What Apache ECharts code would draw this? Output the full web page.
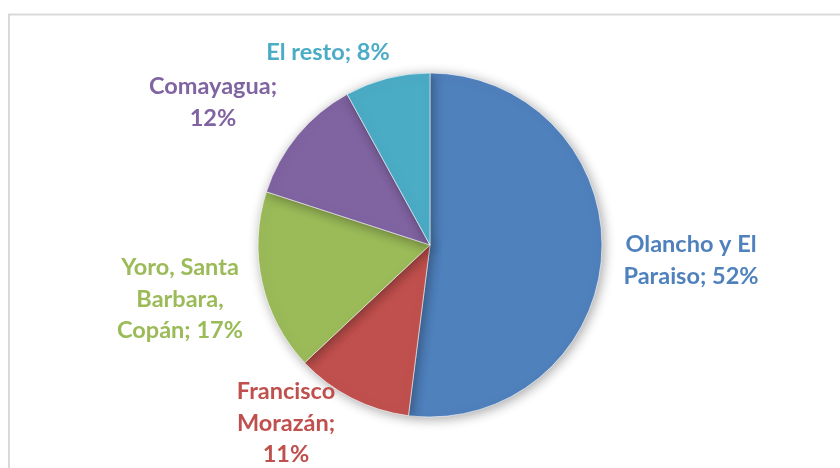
<!DOCTYPE html>
<html>
<head>
<meta charset="utf-8">
<script src="https://cdn.jsdelivr.net/npm/echarts@6/dist/echarts.min.js"></script>
<style>
  html, body { margin: 0; padding: 0; background: #fff; }
  #chart { width: 840px; height: 468px; }
</style>
</head>
<body>
<div id="chart"></div>
<script>
// Regions and their share of the total
const categories = ['Olancho y El Paraiso', 'Francisco Morazán', 'Yoro, Santa Barbara, Copán', 'Comayagua', 'El resto'];
const values = [52, 11, 17, 12, 8];

// Line breaks used in each slice label (name part)
const labelLines = [
  ['Olancho y El', 'Paraiso;'],
  ['Francisco', 'Morazán;'],
  ['Yoro, Santa', 'Barbara,', 'Copán;'],
  ['Comayagua;'],
  ['El resto;']
];
// Whether the percentage goes on its own line
const pctOwnLine = [false, true, false, true, false];

const colors = ['#4F81BD', '#C0504D', '#9BBB59', '#8064A2', '#4BACC6'];
// Label centre positions (x, first-line y)
const labelPos = [[691, 245], [286, 392], [180, 268], [213, 87], [328, 53]];

const chart = echarts.init(document.getElementById('chart'));

function labelText(i, pct) {
  const lines = labelLines[i].slice();
  const p = pct + '%';
  if (pctOwnLine[i]) lines.push(p);
  else lines[lines.length - 1] += ' ' + p;
  return lines.join('\n');
}

chart.setOption({
  backgroundColor: '#fff',
  animation: false,
  graphic: [{
    type: 'rect',
    shape: { x: 9, y: 14.5, width: 850, height: 470 },
    style: { fill: 'none', stroke: '#d9d9d9', lineWidth: 2 },
    silent: true
  }],
  series: [{
    type: 'pie',
    center: [430, 245],
    radius: 172,
    startAngle: 90,
    clockwise: true,
    data: categories.map((name, i) => ({
      name,
      value: values[i],
      itemStyle: { color: colors[i] },
      label: { color: colors[i] }
    })),
    itemStyle: {
      borderColor: 'rgba(255,255,255,0.6)',
      borderWidth: 1,
      shadowBlur: 12,
      shadowColor: 'rgba(0,0,0,0.35)',
      shadowOffsetX: 2,
      shadowOffsetY: 2
    },
    label: {
      show: true,
      position: 'outside',
      fontFamily: 'Lato',
      fontWeight: 'bold',
      fontSize: 23.5,
      lineHeight: 31.5,
      align: 'center',
      formatter: p => labelText(p.dataIndex, p.value)
    },
    labelLine: { show: false },
    labelLayout: p => ({
      x: labelPos[p.dataIndex][0],
      y: labelPos[p.dataIndex][1] - 16,
      align: 'center',
      verticalAlign: 'top',
      moveOverlap: null
    })
  }]
});
</script>
</body>
</html>
